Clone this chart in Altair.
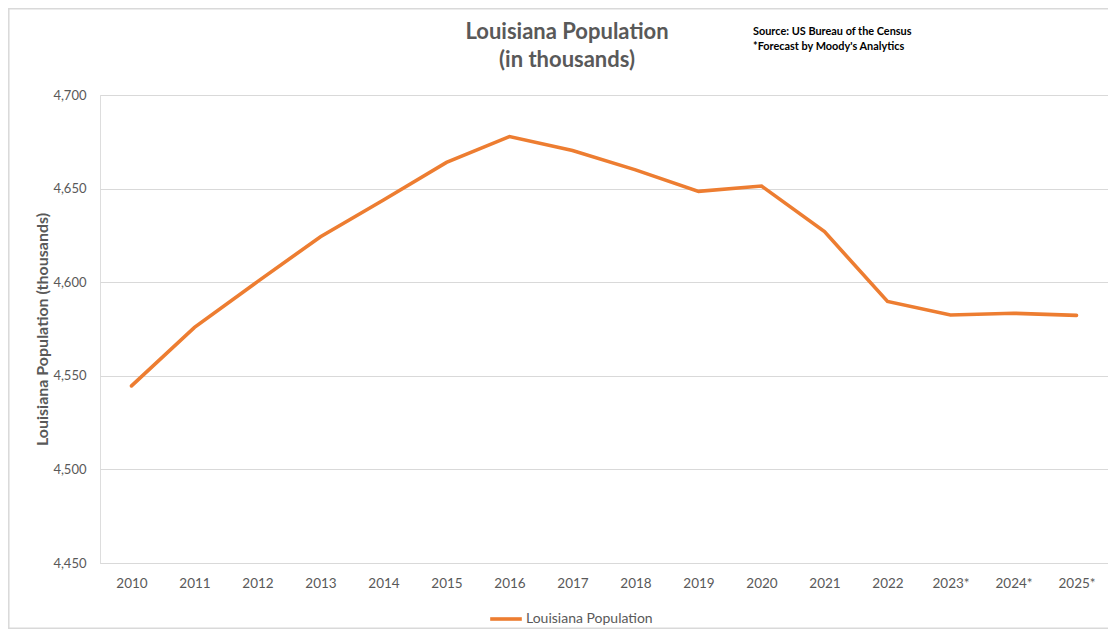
import altair as alt
import pandas as pd

years = ["2010", "2011", "2012", "2013", "2014", "2015", "2016", "2017",
         "2018", "2019", "2020", "2021", "2022", "2023*", "2024*", "2025*"]
population = [4544.6, 4575.9, 4600.3, 4624.3, 4643.9, 4664.0, 4677.8, 4670.3,
              4660.0, 4648.5, 4651.4, 4627.0, 4589.7, 4582.5, 4583.4, 4582.3]
y_ticks = [4450, 4500, 4550, 4600, 4650, 4700]
series_name = "Louisiana Population"
title_lines = ["Louisiana Population", "(in thousands)"]
source_lines = ["Source: US Bureau of the Census", "*Forecast by Moody's Analytics"]

df = pd.DataFrame({"Year": years, "Population": population, "Series": series_name})

FONT = "Lato"
GRAY = "#595959"
ORANGE = "#ED7D31"
BORDER = "#D9D9D9"

W, H = 1008, 468

line = alt.Chart(df).mark_line(strokeWidth=3.6, strokeCap="round", strokeJoin="miter").encode(
    x=alt.X("Year:O", sort=years,
            scale=alt.Scale(type="point", padding=0.5),
            axis=alt.Axis(title=None, labelAngle=0, labelColor=GRAY, labelFont=FONT,
                          labelFontSize=13.5, labelPadding=13, ticks=False,
                          domain=True, domainColor="#D9D9D9", domainWidth=1, grid=False)),
    y=alt.Y("Population:Q",
            scale=alt.Scale(domain=[4450, 4700], nice=False, zero=False),
            axis=alt.Axis(values=y_ticks, format=",.0f", title="Louisiana Population (thousands)",
                          titleFont=FONT, titleFontSize=16, titleFontWeight="bold",
                          titleColor=GRAY, titlePadding=2,
                          labelColor=GRAY, labelFont=FONT, labelFontSize=13,
                          labelPadding=14, ticks=False, domain=False,
                          grid=True, gridColor="#D9D9D9", gridWidth=1)),
    color=alt.Color("Series:N", scale=alt.Scale(range=[ORANGE]),
                    legend=alt.Legend(title=None, orient="none", legendX=388, legendY=506,
                                      symbolType="stroke", symbolStrokeWidth=3.6,
                                      symbolSize=1000, labelFont=FONT, labelFontSize=14,
                                      labelColor=GRAY, labelOffset=2)),
)


def text_line(txt, xpos, ypos, **kw):
    return alt.Chart(pd.DataFrame({"t": [txt]})).mark_text(baseline="middle", **kw).encode(
        text="t:N", x=alt.value(xpos), y=alt.value(ypos))


title1 = text_line(title_lines[0], 467, -63, font=FONT, fontSize=22, fontWeight="bold",
                   color=GRAY, align="center")
title2 = text_line(title_lines[1], 467, -35, font=FONT, fontSize=22, fontWeight="bold",
                   color=GRAY, align="center")
src1 = text_line(source_lines[0], 653, -63, font=FONT, fontSize=10.9, fontWeight="bold",
                 color="#000000", align="left")
src2 = text_line(source_lines[1], 653, -48, font=FONT, fontSize=10.9, fontWeight="bold",
                 color="#000000", align="left")

frame = pd.DataFrame({"a": [0]})
border_top = alt.Chart(frame).mark_rule(stroke=BORDER, strokeWidth=1.5, clip=False).encode(
    x=alt.value(-92), x2=alt.value(1008), y=alt.value(-86.2))
border_bottom = alt.Chart(frame).mark_rule(stroke=BORDER, strokeWidth=1.5, clip=False).encode(
    x=alt.value(-92), x2=alt.value(1008), y=alt.value(533.3))
border_left = alt.Chart(frame).mark_rule(stroke=BORDER, strokeWidth=1.5, clip=False).encode(
    x=alt.value(-91.2), y=alt.value(-87), y2=alt.value(534))

chart = alt.layer(border_top, border_bottom, border_left, line,
                  title1, title2, src1, src2).properties(
    width=W, height=H,
    autosize=alt.AutoSizeParams(type="none"),
    padding={"left": 92, "top": 87, "right": 0, "bottom": 66},
).configure_view(stroke=None).configure(background="white")

chart.save("out.html", embed_options={"renderer": "svg", "actions": False})
